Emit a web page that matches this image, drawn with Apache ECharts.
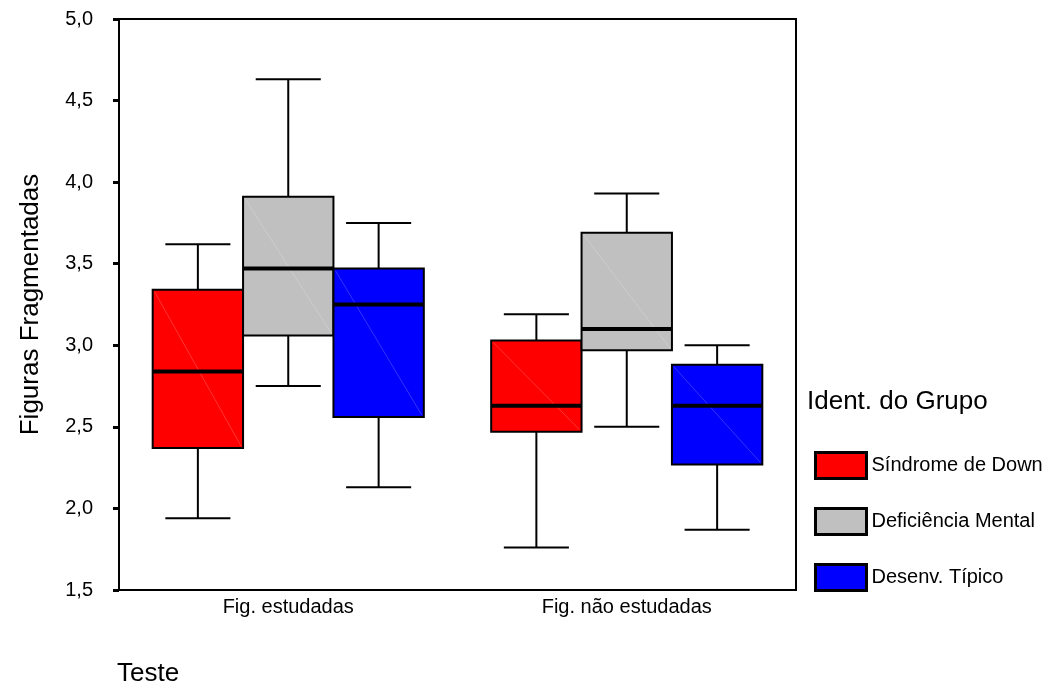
<!DOCTYPE html>
<html>
<head>
<meta charset="utf-8">
<script src="https://cdn.jsdelivr.net/npm/echarts@6/dist/echarts.min.js"></script>
<style>
  html, body { margin: 0; padding: 0; background: #fff; }
  #chart { width: 1054px; height: 687px; }
</style>
</head>
<body>
<div id="chart"></div>
<script>
// categorias do eixo x
const categories = ['Fig. estudadas', 'Fig. não estudadas'];
// grupos da legenda
const groupNames = ['Síndrome de Down', 'Deficiência Mental', 'Desenv. Típico'];
const groupColors = ['#ff0000', '#c0c0c0', '#0000ff'];
// [mín, Q1, mediana, Q3, máx] por categoria
const sindromeDown = [[1.94, 2.37, 2.84, 3.34, 3.62], [1.76, 2.47, 2.63, 3.03, 3.19]];
const deficienciaMental = [[2.75, 3.06, 3.47, 3.91, 4.63], [2.50, 2.97, 3.10, 3.69, 3.93]];
const desenvTipico = [[2.13, 2.56, 3.25, 3.47, 3.75], [1.87, 2.27, 2.63, 2.88, 3.00]];
const yTicks = [1.5, 2.0, 2.5, 3.0, 3.5, 4.0, 4.5, 5.0];

const groups = [sindromeDown, deficienciaMental, desenvTipico];
const FONT = 'Liberation Sans, Arial, sans-serif';

function renderBox(params, api) {
  const cat = api.value(0);
  const bandW = api.size([1, 0])[0];
  const boxW = bandW * 0.267;
  const cx = api.coord([cat, yTicks[0]])[0] + (params.seriesIndex - 1) * boxW;
  const y = [1, 2, 3, 4, 5].map(function (k) { return api.coord([cat, api.value(k)])[1]; });
  const capW = boxW * 0.72;
  const x0 = cx - boxW / 2, x1 = cx + boxW / 2;
  const line = { stroke: '#000', lineWidth: 2 };
  return {
    type: 'group',
    children: [
      { type: 'line', shape: { x1: cx, y1: y[3], x2: cx, y2: y[4] }, style: line },
      { type: 'line', shape: { x1: cx, y1: y[0], x2: cx, y2: y[1] }, style: line },
      { type: 'line', shape: { x1: cx - capW / 2, y1: y[4], x2: cx + capW / 2, y2: y[4] }, style: line },
      { type: 'line', shape: { x1: cx - capW / 2, y1: y[0], x2: cx + capW / 2, y2: y[0] }, style: line },
      { type: 'rect', shape: { x: x0, y: y[3], width: boxW, height: y[1] - y[3] },
        style: { fill: api.visual('color'), stroke: '#000', lineWidth: 2 } },
      { type: 'line', shape: { x1: x0 + 2, y1: y[3] + 2, x2: x1 - 2, y2: y[1] - 2 },
        style: { stroke: 'rgba(255,255,255,0.2)', lineWidth: 1 } },
      { type: 'line', shape: { x1: x0, y1: y[2], x2: x1, y2: y[2] }, style: { stroke: '#000', lineWidth: 4 } }
    ]
  };
}

const chart = echarts.init(document.getElementById('chart'));
chart.setOption({
  animation: false,
  textStyle: { fontFamily: FONT },
  grid: {
    left: 119, right: 258, top: 19, bottom: 97,
    show: true, borderColor: '#000', borderWidth: 2
  },
  legend: {
    orient: 'vertical',
    left: 814, top: 451, padding: 0,
    itemWidth: 51, itemHeight: 26, itemGap: 27,
    textStyle: { fontSize: 20, color: '#000', fontFamily: FONT },
    data: groupNames.map(function (n, i) {
      return { name: n, icon: 'rect', itemStyle: { color: groupColors[i], borderColor: '#000', borderWidth: 3 } };
    })
  },
  graphic: [
    { type: 'text', left: 807, top: 389,
      style: { text: 'Ident. do Grupo', font: '26px ' + FONT, fill: '#000' } },
    { type: 'text', left: 117, top: 661,
      style: { text: 'Teste', font: '26px ' + FONT, fill: '#000' } }
  ],
  xAxis: {
    type: 'category',
    data: categories,
    axisLine: { lineStyle: { color: '#000', width: 2 } },
    axisTick: { alignWithLabel: true, length: 4, lineStyle: { color: '#000', width: 3 } },
    axisLabel: { fontSize: 20, color: '#000', margin: 7 },
    splitLine: { show: false }
  },
  yAxis: {
    type: 'value',
    min: yTicks[0], max: yTicks[yTicks.length - 1], interval: 0.5,
    name: 'Figuras Fragmentadas',
    nameLocation: 'middle', nameGap: 75,
    nameTextStyle: { fontSize: 26, color: '#000' },
    axisLine: { show: true, lineStyle: { color: '#000', width: 2 } },
    axisTick: { show: true, length: 6, lineStyle: { color: '#000', width: 3 } },
    axisLabel: {
      fontSize: 20, color: '#000', margin: 26,
      formatter: function (v) { return v.toFixed(1).replace('.', ','); }
    },
    splitLine: { show: false }
  },
  series: groups.map(function (g, i) {
    return {
      name: groupNames[i],
      type: 'custom',
      renderItem: renderBox,
      itemStyle: { color: groupColors[i] },
      encode: { x: 0, y: [1, 2, 3, 4, 5] },
      data: g.map(function (v, c) { return [c].concat(v); })
    };
  })
});
</script>
</body>
</html>
